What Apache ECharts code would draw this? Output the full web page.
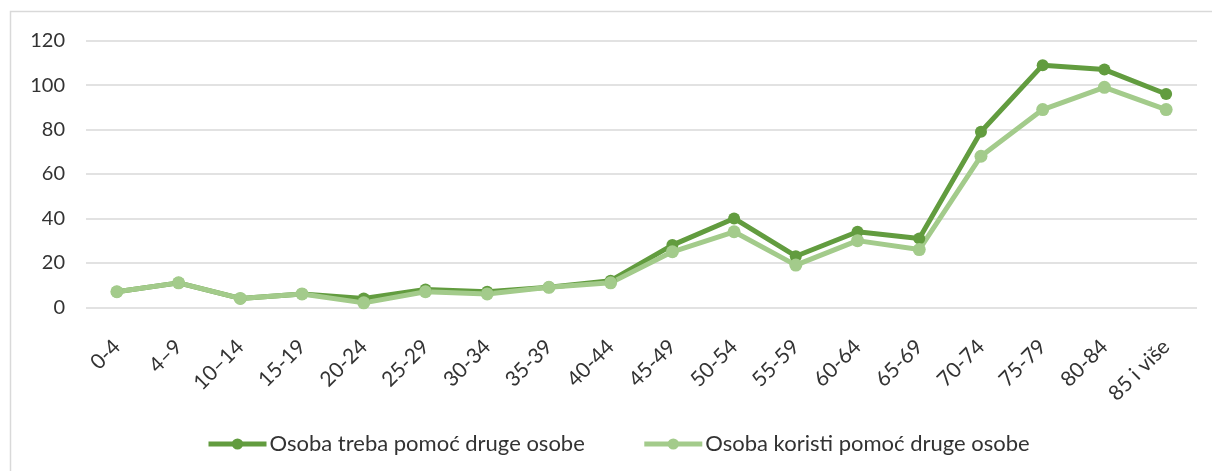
<!DOCTYPE html>
<html>
<head>
<meta charset="utf-8">
<script src="https://cdn.jsdelivr.net/npm/echarts@6/dist/echarts.min.js"></script>
<style>
  html, body { margin: 0; padding: 0; background: #fff; }
  #chart { width: 1212px; height: 471px; }
</style>
</head>
<body>
<div id="chart"></div>
<script>
// dobne skupine
const ageGroups = ['0-4', '4\u20139', '10\u201314', '15-19', '20-24', '25-29', '30-34', '35-39', '40-44',
  '45-49', '50-54', '55-59', '60-64', '65-69', '70-74', '75-79', '80-84', '85 i više'];
const trebaPomoc = [7, 11, 4, 6, 4, 8, 7, 9, 12, 28, 40, 23, 34, 31, 79, 109, 107, 96];
const koristiPomoc = [7, 11, 4, 6, 2, 7, 6, 9, 11, 25, 34, 19, 30, 26, 68, 89, 99, 89];
const yTicks = [0, 20, 40, 60, 80, 100, 120];

const darkGreen = '#629c3f';
const lightGreen = '#a3cb8b';
const font = 'Lato, "Open Sans", sans-serif';

let chart = echarts.init(document.getElementById('chart'));
chart.setOption({
  animation: false,
  textStyle: { fontFamily: font },
  graphic: [
    {
      type: 'rect',
      shape: { x: 10.5, y: 11.5, width: 1300, height: 600 },
      style: { fill: 'none', stroke: '#d9d9d9', lineWidth: 1.5 },
      silent: true
    }
  ],
  grid: { left: 86, right: 15, top: 40.7, bottom: 163.7 },
  legend: {
    top: 428,
    left: 201,
    itemGap: 57,
    itemWidth: 58,
    itemHeight: 14,
    lineStyle: { width: 5 },
    textStyle: { fontSize: 22, color: '#333', fontFamily: font, padding: [0, 0, 0, -2] },
    data: ['Osoba treba pomoć druge osobe', 'Osoba koristi pomoć druge osobe']
  },
  xAxis: {
    type: 'category',
    data: ageGroups,
    boundaryGap: true,
    axisLine: { show: false },
    axisTick: { show: false },
    axisLabel: {
      rotate: 45,
      interval: 0,
      margin: 36,
      fontSize: 21,
      color: '#333'
    }
  },
  yAxis: {
    type: 'value',
    min: yTicks[0],
    max: yTicks[yTicks.length - 1],
    interval: 20,
    axisLine: { show: false },
    axisTick: { show: false },
    axisLabel: { fontSize: 20, color: '#333', margin: 21 },
    splitLine: { lineStyle: { color: '#d9d9d9', width: 1.5 } }
  },
  series: [
    {
      name: 'Osoba treba pomoć druge osobe',
      type: 'line',
      data: trebaPomoc,
      symbol: 'circle',
      symbolSize: 12,
      color: darkGreen,
      lineStyle: { width: 5, color: darkGreen },
      itemStyle: { color: darkGreen }
    },
    {
      name: 'Osoba koristi pomoć druge osobe',
      type: 'line',
      data: koristiPomoc,
      symbol: 'circle',
      symbolSize: 13,
      color: lightGreen,
      lineStyle: { width: 5, color: lightGreen },
      itemStyle: { color: lightGreen }
    }
  ]
});
</script>
</body>
</html>
